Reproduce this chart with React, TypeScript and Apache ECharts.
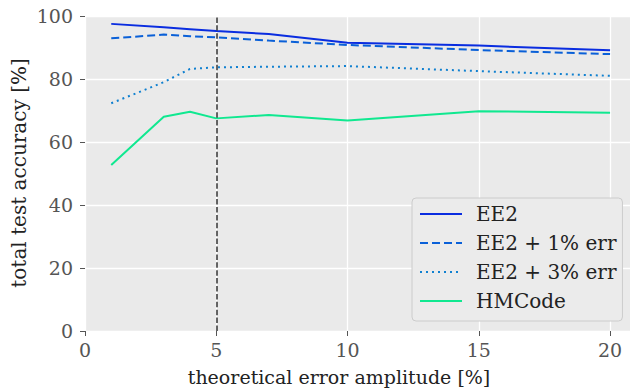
import React, { useEffect, useRef } from "react";
import * as echarts from "echarts";

// theoretical error amplitude [%]
const xValues = [1, 3, 4, 5, 7, 10, 15, 20];
// total test accuracy [%] per model
const ee2 = [97.5, 96.4, 95.8, 95.2, 94.3, 91.5, 90.6, 89.1];
const ee2Err1 = [92.9, 94.1, 93.6, 93.2, 92.2, 90.8, 89.2, 87.9];
const ee2Err3 = [72.3, 79.0, 83.2, 83.7, 83.9, 84.1, 82.5, 81.0];
const hmcode = [52.7, 68.0, 69.6, 67.5, 68.6, 66.8, 69.8, 69.3];
const seriesNames = ["EE2", "EE2 + 1% err", "EE2 + 3% err", "HMCode"];
const markerX = 5;

const FONT = "DejaVu Serif";

const pairs = (ys: number[]) => xValues.map((x, i) => [x, ys[i]]);

export default function App() {
  const ref = useRef<HTMLDivElement>(null);

  useEffect(() => {
    if (!ref.current) return;
    const chart = echarts.init(ref.current, null, { renderer: "svg" });

    const axisCommon = {
      type: "value" as const,
      axisLine: { show: false },
      axisTick: { show: true, length: 5, lineStyle: { color: "#555555", width: 1 } },
      splitLine: { show: true, lineStyle: { color: "#ffffff", width: 1.3 } },
    };

    chart.setOption({
      animation: false,
      backgroundColor: "#ffffff",
      grid: {
        left: 85,
        right: 5,
        top: 16,
        bottom: 61,
        show: true,
        backgroundColor: "#eaeaea",
        borderWidth: 0,
      },
      xAxis: {
        ...axisCommon,
        min: 0,
        max: 20.95,
        interval: 5,
        axisLabel: {
          color: "#555555",
          fontFamily: FONT,
          fontSize: 19,
          margin: 9,
          showMaxLabel: false,
        },
      },
      yAxis: {
        ...axisCommon,
        min: 0,
        max: 100,
        interval: 20,
        axisLabel: {
          color: "#555555",
          fontFamily: FONT,
          fontSize: 19,
          margin: 12,
        },
      },
      legend: {
        left: 412,
        top: 198,
        orient: "vertical",
        itemWidth: 42,
        itemHeight: 16,
        itemGap: 9,
        padding: [6, 6, 10, 7],
        backgroundColor: "#ebebeb",
        borderColor: "#cccccc",
        borderWidth: 1,
        borderRadius: 4,
        data: seriesNames,
        // line-only keys: hide the marker drawn in the middle of each key
        itemStyle: { opacity: 0 },
        textStyle: {
          color: "#222222",
          fontFamily: FONT,
          fontSize: 20,
          lineHeight: 16,
          padding: [0, 0, 0, 9],
        },
      },
      graphic: [
        {
          type: "text",
          x: 339,
          y: 377,
          style: {
            text: "theoretical error amplitude [%]",
            fontFamily: FONT,
            fontSize: 19,
            fill: "#222222",
            align: "center",
            verticalAlign: "middle",
          },
        },
        {
          type: "text",
          x: 19,
          y: 173,
          rotation: Math.PI / 2,
          style: {
            text: "total test accuracy [%]",
            fontFamily: FONT,
            fontSize: 20,
            fill: "#222222",
            align: "center",
            verticalAlign: "middle",
          },
        },
      ],
      series: [
        {
          name: seriesNames[0],
          type: "line",
          symbol: "none",
          data: pairs(ee2),
          lineStyle: { color: "#0a2de0", width: 2 },
          itemStyle: { color: "#0a2de0" },
        },
        {
          name: seriesNames[1],
          type: "line",
          symbol: "none",
          data: pairs(ee2Err1),
          lineStyle: { color: "#0a60d8", width: 2, type: [8, 4] },
          itemStyle: { color: "#0a60d8" },
        },
        {
          name: seriesNames[2],
          type: "line",
          symbol: "none",
          data: pairs(ee2Err3),
          lineStyle: { color: "#1080d0", width: 2, type: [2, 4] },
          itemStyle: { color: "#1080d0" },
        },
        {
          name: seriesNames[3],
          type: "line",
          symbol: "none",
          data: pairs(hmcode),
          lineStyle: { color: "#10e890", width: 2 },
          itemStyle: { color: "#10e890" },
          markLine: {
            silent: true,
            symbol: "none",
            label: { show: false },
            lineStyle: { color: "#333333", width: 1.5, type: [5.5, 2.4] },
            data: [{ xAxis: markerX }],
          },
        },
      ],
    });

    return () => chart.dispose();
  }, []);

  return (
    <div
      style={{
        position: "fixed",
        left: 0,
        top: 0,
        width: 630,
        height: 392,
        overflow: "hidden",
        background: "#ffffff",
      }}
    >
      <div ref={ref} style={{ width: 640, height: 392 }} />
    </div>
  );
}
